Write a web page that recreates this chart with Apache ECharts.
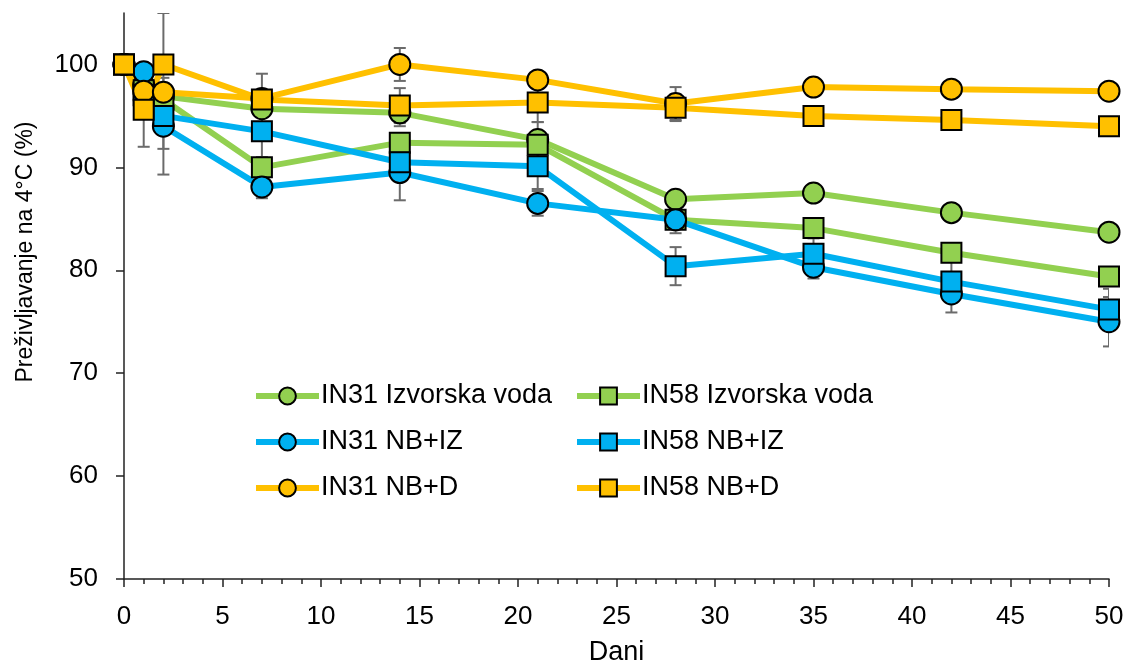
<!DOCTYPE html>
<html>
<head>
<meta charset="utf-8">
<script src="https://cdn.jsdelivr.net/npm/echarts@6/dist/echarts.min.js"></script>
<style>
  html, body { margin: 0; padding: 0; background: #fff; }
  #chart { width: 1129px; height: 662px; }
</style>
</head>
<body>
<div id="chart"></div>
<script>
// dani mjerenja
const days = [0, 1, 2, 7, 14, 21, 28, 35, 42, 50];
const yTicks = [50, 60, 70, 80, 90, 100];

// prezivljavanje (%)
const in31Izv = [100, 98.0, 96.9, 95.7, 95.3, 92.7, 86.9, 87.5, 85.6, 83.7];
const in58Izv = [100, 97.5, 96.6, 90.0, 92.4, 92.2, 84.9, 84.1, 81.7, 79.4];
const in31Iz = [100, 99.3, 94.0, 88.1, 89.5, 86.5, 84.9, 80.3, 77.7, 75.0];
const in58Iz = [100, 97.0, 95.0, 93.5, 90.5, 90.1, 80.4, 81.6, 78.9, 76.2];
const in31D = [100, 97.4, 97.3, 96.7, 100, 98.5, 96.2, 97.8, 97.6, 97.4];
const in58D = [100, 95.6, 100, 96.6, 96.0, 96.3, 95.8, 95.0, 94.6, 94.0];

// standardna devijacija (null = nema)
const err31Izv = [null, null, null, null, 1.3, 1.7, null, null, null, null];
const err58Izv = [null, null, null, null, null, null, 1.3, null, null, null];
const err31Iz = [null, null, 4.7, 1.1, 2.7, 1.2, null, 1.1, 1.8, 2.4];
const err58Iz = [null, null, 3.2, 2.5, null, 2.2, 1.85, 1.5, 2.0, 2.0];
const err31D = [null, null, null, 2.4, 1.6, null, 1.6, null, null, null];
const err58D = [null, 3.6, 5.0, null, 1.7, 1.9, 1.3, null, null, null];

const GREEN = '#92D050', BLUE = '#00B0F0', ORANGE = '#FFC000';
const FONT = 'Liberation Sans';

const seriesDefs = [
  { name: 'IN31 Izvorska voda', values: in31Izv, err: err31Izv, color: GREEN, symbol: 'circle' },
  { name: 'IN58 Izvorska voda', values: in58Izv, err: err58Izv, color: GREEN, symbol: 'rect' },
  { name: 'IN31 NB+IZ', values: in31Iz, err: err31Iz, color: BLUE, symbol: 'circle' },
  { name: 'IN58 NB+IZ', values: in58Iz, err: err58Iz, color: BLUE, symbol: 'rect' },
  { name: 'IN31 NB+D', values: in31D, err: err31D, color: ORANGE, symbol: 'circle' },
  { name: 'IN58 NB+D', values: in58D, err: err58D, color: ORANGE, symbol: 'rect' }
];

function errorBar(params, api) {
  const x = api.value(0);
  const lo = api.coord([x, api.value(1)]);
  const hi = api.coord([x, api.value(2)]);
  const cap = 6;
  const style = { stroke: '#6b6b6b', lineWidth: 2 };
  return {
    type: 'group',
    children: [
      { type: 'line', shape: { x1: lo[0], y1: lo[1], x2: hi[0], y2: hi[1] }, style: style },
      { type: 'line', shape: { x1: lo[0] - cap, y1: lo[1], x2: lo[0] + cap, y2: lo[1] }, style: style },
      { type: 'line', shape: { x1: hi[0] - cap, y1: hi[1], x2: hi[0] + cap, y2: hi[1] }, style: style }
    ]
  };
}

const series = [];
seriesDefs.forEach(function (s) {
  const bars = [];
  days.forEach(function (d, i) {
    if (s.err[i] != null) bars.push([d, s.values[i] - s.err[i], s.values[i] + s.err[i]]);
  });
  series.push({
    type: 'custom',
    name: s.name + ' err',
    renderItem: errorBar,
    data: bars,
    z: 1,
    silent: true,
    clip: true
  });
});
seriesDefs.forEach(function (s) {
  series.push({
    type: 'line',
    name: s.name,
    data: days.map(function (d, i) { return [d, s.values[i]]; }),
    symbol: s.symbol,
    symbolSize: s.symbol === 'circle' ? 21 : 20,
    showAllSymbol: true,
    lineStyle: { color: s.color, width: 6 },
    itemStyle: { color: s.color, borderColor: '#000', borderWidth: 2 },
    z: 3,
    animation: false
  });
});

const legendCommon = {
  orient: 'vertical',
  itemWidth: 63,
  itemHeight: 21,
  itemGap: 18,
  lineStyle: { width: 6 },
  textStyle: { fontFamily: FONT, fontSize: 27, color: '#000', lineHeight: 28, padding: [0, 0, 0, -3] },
  padding: 0
};

const chart = echarts.init(document.getElementById('chart'));
chart.setOption({
  animation: false,
  grid: { left: 124, right: 20, top: 13, bottom: 83, outerBoundsMode: 'none' },
  legend: [
    Object.assign({ left: 253, top: 382, data: ['IN31 Izvorska voda', 'IN31 NB+IZ', 'IN31 NB+D'] }, legendCommon),
    Object.assign({ left: 574, top: 382, data: ['IN58 Izvorska voda', 'IN58 NB+IZ', 'IN58 NB+D'] }, legendCommon)
  ],
  xAxis: {
    type: 'value',
    min: 0,
    max: 50,
    interval: 5,
    name: 'Dani',
    nameLocation: 'middle',
    nameGap: 60,
    nameTextStyle: { fontFamily: FONT, fontSize: 27, color: '#000' },
    axisLine: { lineStyle: { color: '#222', width: 1.5 } },
    axisTick: { show: true, length: 8, lineStyle: { color: '#222', width: 1.5 } },
    minorTick: { show: true, splitNumber: 5, length: 5, lineStyle: { color: '#222', width: 1.5 } },
    axisLabel: { fontFamily: FONT, fontSize: 26, color: '#000', margin: 25 },
    splitLine: { show: false }
  },
  yAxis: {
    type: 'value',
    min: 50,
    max: 105,
    interval: 10,
    axisLine: { show: true, lineStyle: { color: '#222', width: 1.5 } },
    axisTick: { show: true, length: 8, customValues: yTicks, lineStyle: { color: '#222', width: 1.5 } },
    axisLabel: { fontFamily: FONT, fontSize: 26, color: '#000', margin: 26, customValues: yTicks },
    splitLine: { show: false }
  },
  graphic: [{
    type: 'text',
    x: 26,
    y: 252,
    rotation: Math.PI / 2,
    style: {
      text: 'Preživljavanje na 4°C (%)',
      fontFamily: FONT,
      fontSize: 23,
      fill: '#000',
      align: 'center',
      verticalAlign: 'middle'
    }
  }],
  series: series
});
</script>
</body>
</html>
